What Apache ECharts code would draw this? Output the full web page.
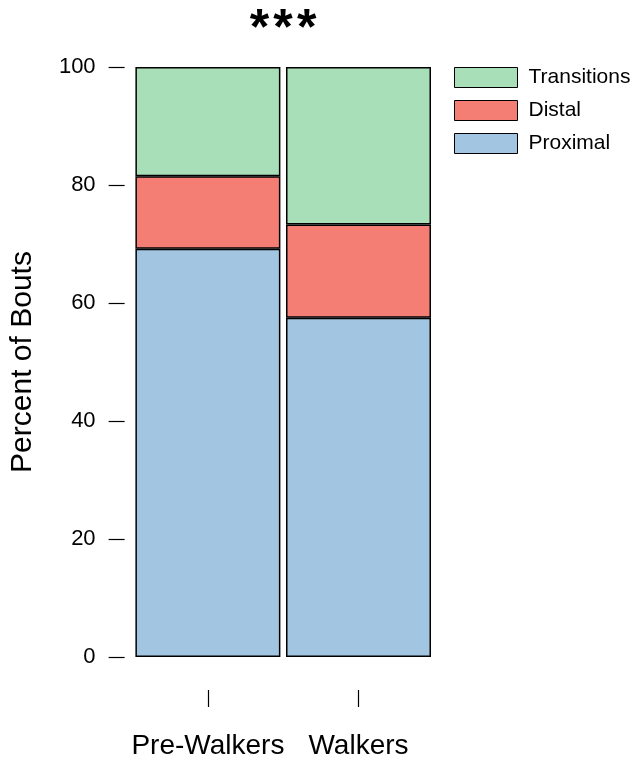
<!DOCTYPE html>
<html>
<head>
<meta charset="utf-8">
<script src="https://cdn.jsdelivr.net/npm/echarts@6/dist/echarts.min.js"></script>
<style>
html,body{margin:0;padding:0;background:#fff;}
#chart{width:633px;height:760px;}
</style>
</head>
<body>
<div id="chart"></div>
<script>
var categories = ['Pre-Walkers', 'Walkers'];
var proximal = [69.2, 57.5];
var distal = [12.3, 15.8];
var transitions = [18.5, 26.7];
var yTicks = [0, 20, 40, 60, 80, 100];
var legendOrder = ['Transitions', 'Distal', 'Proximal'];

var colors = { Proximal: '#a2c6e1', Distal: '#f47d74', Transitions: '#a9dfb8' };
var font = '"Liberation Sans", Arial, Helvetica, sans-serif';

function mk(name, data) {
  return {
    name: name, type: 'bar', stack: 'total', data: data, barWidth: 145,
    itemStyle: { color: colors[name], borderColor: '#000', borderWidth: 1.5 },
    emphasis: { disabled: true }
  };
}

var chart = echarts.init(document.getElementById('chart'), null, { renderer: 'canvas' });
chart.setOption({
  animation: false,
  backgroundColor: '#fff',
  textStyle: { fontFamily: font },
  title: {
    text: '*\u200A*\u200A*', left: 278, top: 0, textAlign: 'center',
    textStyle: { fontSize: 50, fontWeight: 'bold', color: '#000', fontFamily: font }
  },
  legend: {
    data: legendOrder, orient: 'vertical', left: 449, top: 62,
    itemWidth: 63, itemHeight: 20, itemGap: 12,
    icon: 'rect',
    itemStyle: { borderColor: '#000', borderWidth: 1 },
    textStyle: { fontSize: 21, color: '#000', fontFamily: font, padding: [0, 0, 0, 6] }
  },
  grid: { left: 132.6, width: 301.2, top: 67, bottom: 103, containLabel: false, outerBoundsMode: 'none' },
  xAxis: {
    type: 'category', data: categories, offset: 33,
    axisLine: { show: false, onZero: false },
    axisTick: { show: true, alignWithLabel: true, length: 17, lineStyle: { color: '#000', width: 1.2 } },
    axisLabel: { fontSize: 28, color: '#000', margin: 42, interval: 0, hideOverlap: false, fontFamily: font }
  },
  yAxis: {
    type: 'value', min: 0, max: 100, interval: 20, offset: 8,
    name: 'Percent of Bouts', nameLocation: 'middle', nameGap: 87, nameRotate: 90,
    nameTextStyle: { fontSize: 30, color: '#000', fontFamily: font },
    axisLine: { show: false },
    splitLine: { show: false },
    axisTick: { show: true, length: 16, lineStyle: { color: '#000', width: 1.2 } },
    axisLabel: { fontSize: 22, color: '#000', margin: 29, fontFamily: font }
  },
  series: [mk('Proximal', proximal), mk('Distal', distal), mk('Transitions', transitions)]
});
</script>
</body>
</html>
